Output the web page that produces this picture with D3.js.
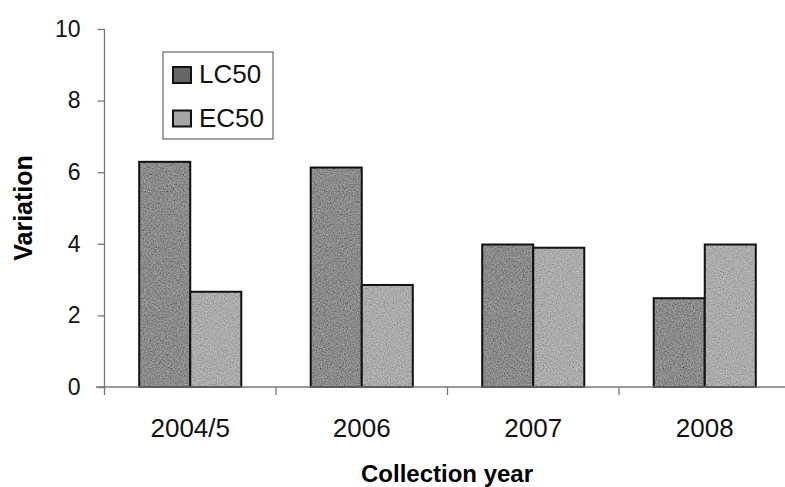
<!DOCTYPE html>
<html>
<head>
<meta charset="utf-8">
<script src="https://cdn.jsdelivr.net/npm/d3@7.9.0/dist/d3.min.js"></script>
<style>
  body { margin: 0; background: #fff; }
  svg { display: block; font-family: Arial, "Liberation Sans", sans-serif; }
</style>
</head>
<body>
<svg id="chart" width="785" height="487"></svg>
<script>
const years = ["2004/5", "2006", "2007", "2008"];
const seriesNames = ["LC50", "EC50"];
const lc50 = [6.29, 6.13, 3.98, 2.48];
const ec50 = [2.66, 2.85, 3.89, 3.98];
const yTicks = [0, 2, 4, 6, 8, 10];

const colors = { LC50: "#666666", EC50: "#a6a6a6" };

const svg = d3.select("#chart");

// speckled print look
const filter = svg.append("defs").append("filter").attr("id", "grain")
  .attr("x", 0).attr("y", 0).attr("width", 1).attr("height", 1);
filter.append("feTurbulence").attr("type", "fractalNoise")
  .attr("baseFrequency", 0.7).attr("numOctaves", 2).attr("seed", 4).attr("result", "noise");
filter.append("feColorMatrix").attr("in", "noise").attr("type", "matrix")
  .attr("values", "0.6 0.6 0.6 0 -0.45  0.6 0.6 0.6 0 -0.45  0.6 0.6 0.6 0 -0.45  0 0 0 0 0.4")
  .attr("result", "gn");
filter.append("feComposite").attr("in", "gn").attr("in2", "SourceGraphic")
  .attr("operator", "in").attr("result", "clip");
const merge = filter.append("feMerge");
merge.append("feMergeNode").attr("in", "SourceGraphic");
merge.append("feMergeNode").attr("in", "clip");

const data = years.map((year, i) => ({ year, LC50: lc50[i], EC50: ec50[i] }));

const x0 = d3.scaleBand().domain(years).range([104.5, 790.5]).padding(0);
const x1 = d3.scaleBand().domain(seriesNames).range([0, x0.bandwidth()])
  .paddingInner(0).paddingOuter(0.68);
const y = d3.scaleLinear().domain([0, 10]).range([387, 29]);

// bars
const groups = svg.append("g").selectAll("g")
  .data(data)
  .join("g")
  .attr("transform", (d) => `translate(${x0(d.year)},0)`);

const bars = groups.selectAll("g")
  .data((d) => seriesNames.map((s) => ({ key: s, value: d[s] })))
  .join("g");

bars.append("rect")
  .attr("x", (d) => x1(d.key))
  .attr("y", (d) => y(d.value))
  .attr("width", x1.bandwidth())
  .attr("height", (d) => y(0) - y(d.value))
  .attr("fill", (d) => colors[d.key])
  .attr("filter", "url(#grain)");

bars.append("rect")
  .attr("x", (d) => x1(d.key))
  .attr("y", (d) => y(d.value))
  .attr("width", x1.bandwidth())
  .attr("height", (d) => y(0) - y(d.value))
  .attr("fill", "none")
  .attr("stroke", "#111")
  .attr("stroke-width", 2);

// y axis
const yAxis = svg.append("g")
  .attr("transform", "translate(104.5,0)")
  .call(d3.axisLeft(y).tickValues(yTicks).tickSize(7).tickPadding(17).tickSizeOuter(0));
yAxis.select(".domain").attr("stroke", "#777").attr("stroke-width", 1.3)
  .attr("d", `M0,${y(10)}V${y(0) + 8}`);
yAxis.selectAll(".tick line").attr("stroke", "#777").attr("stroke-width", 1.3);
yAxis.selectAll(".tick text")
  .attr("fill", "#111")
  .attr("font-size", 23)
  .attr("font-family", "Arial, 'Liberation Sans', sans-serif");

// x axis
const xAxis = svg.append("g").attr("transform", `translate(0,${y(0)})`);
xAxis.append("line")
  .attr("x1", 96).attr("x2", 785)
  .attr("stroke", "#777").attr("stroke-width", 1.3);
xAxis.selectAll("line.sep")
  .data(years.slice(1))
  .join("line")
  .attr("class", "sep")
  .attr("x1", (d) => x0(d)).attr("x2", (d) => x0(d))
  .attr("y1", 0).attr("y2", 8)
  .attr("stroke", "#777").attr("stroke-width", 1.3);
xAxis.selectAll("text")
  .data(years)
  .join("text")
  .attr("x", (d) => x0(d) + x0.bandwidth() / 2)
  .attr("y", 50)
  .attr("text-anchor", "middle")
  .attr("font-size", 26)
  .attr("fill", "#111")
  .text((d) => d);

// axis titles
svg.append("text")
  .attr("x", 447).attr("y", 482)
  .attr("text-anchor", "middle")
  .attr("font-size", 24)
  .attr("font-weight", "bold")
  .attr("fill", "#000")
  .text("Collection year");

svg.append("text")
  .attr("transform", "translate(32,208) rotate(-90)")
  .attr("text-anchor", "middle")
  .attr("font-size", 25)
  .attr("font-weight", "bold")
  .attr("fill", "#000")
  .text("Variation");

// legend
const legend = svg.append("g").attr("transform", "translate(163,52)");
legend.append("rect")
  .attr("width", 110).attr("height", 87)
  .attr("fill", "#fff").attr("stroke", "#666").attr("stroke-width", 1.2);
const items = legend.selectAll("g.item")
  .data(seriesNames)
  .join("g")
  .attr("class", "item")
  .attr("transform", (d, i) => `translate(10,${15 + i * 43.5})`);
items.append("rect")
  .attr("width", 18).attr("height", 16)
  .attr("fill", (d) => colors[d])
  .attr("stroke", "#111").attr("stroke-width", 2);
items.append("text")
  .attr("x", 26).attr("y", 16)
  .attr("font-size", 26)
  .attr("fill", "#111")
  .text((d) => d);
</script>
</body>
</html>
